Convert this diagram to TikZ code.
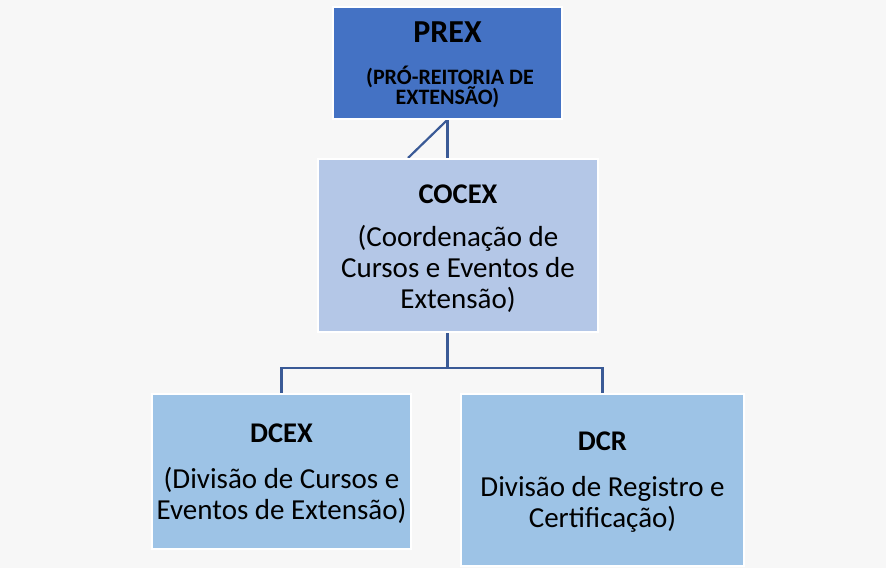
\documentclass[tikz,border=0pt]{standalone}
\usepackage{fontspec}
\setmainfont{Carlito}
\definecolor{bgc}{RGB}{247,247,247}
\definecolor{prexc}{RGB}{68,114,196}
\definecolor{cocexc}{RGB}{180,199,231}
\definecolor{divc}{RGB}{157,195,230}
\definecolor{linec}{RGB}{58,90,150}
\pgfdeclarelayer{bglayer}
\pgfdeclarelayer{linelayer}
\pgfsetlayers{bglayer,linelayer,main}
\tikzset{
  box/.style={draw=white, line width=1.5pt, inner sep=0pt, rectangle},
  conn/.style={draw=linec, line width=2.2pt},
  title/.style={anchor=base, font=\fontsize{28.5}{28.5}\selectfont\bfseries},
  body/.style={anchor=base, font=\fontsize{29}{29}\selectfont},
}
\begin{document}
\begin{tikzpicture}[x=1pt,y=-1pt]
\begin{pgfonlayer}{bglayer}
\fill[bgc] (0,0) rectangle (886,568);
\end{pgfonlayer}
\useasboundingbox (0,0) rectangle (886,568);
% boxes
\node[box, fill=prexc, minimum width=229pt, minimum height=112pt] (prex) at (447.5,63) {};
\node[box, fill=cocexc, minimum width=280pt, minimum height=173pt] (cocex) at (458,245.5) {};
\node[box, fill=divc, minimum width=259pt, minimum height=155pt] (dcex) at (281.5,471.5) {};
\node[box, fill=divc, minimum width=283pt, minimum height=172pt] (dcr) at (602.5,480) {};
% connectors
\coordinate (diagend) at (408,158);
\coordinate (bus) at (447.5,368);
\begin{pgfonlayer}{linelayer}
\draw[conn] (prex.south) -- (prex.south |- cocex.north);
\draw[conn] (prex.south) -- (diagend);
\draw[conn] (prex.south |- cocex.south) -- (bus);
\draw[conn] (dcex.north) |- (bus) -| (dcr.north);
\end{pgfonlayer}
% texts
\node[anchor=base, font=\fontsize{32}{32}\selectfont\bfseries] (prexT) at (447.5,42) {PREX};
\node[anchor=base, font=\fontsize{22}{22}\selectfont\bfseries] (prexA) at (450,84) {(PRÓ-REITORIA DE};
\node[anchor=base, font=\fontsize{22}{22}\selectfont\bfseries] (prexB) at (447.5,104) {EXTENSÃO)};
\node[title] (cocexT) at (458,203) {COCEX};
\node[body] (cocexA) at (458,246) {(Coordenação de};
\node[body] (cocexB) at (458,277) {Cursos e Eventos de};
\node[body] (cocexC) at (458,308) {Extensão)};
\node[title] (dcexT) at (281.5,442) {DCEX};
\node[body] (dcexA) at (281.5,488) {(Divisão de Cursos e};
\node[body] (dcexB) at (281.5,519) {Eventos de Extensão)};
\node[title] (dcrT) at (602.5,450) {DCR};
\node[body] (dcrA) at (602.5,496) {Divisão de Registro e};
\node[body] (dcrB) at (602.5,527) {Certificação)};
\end{tikzpicture}
\end{document}
